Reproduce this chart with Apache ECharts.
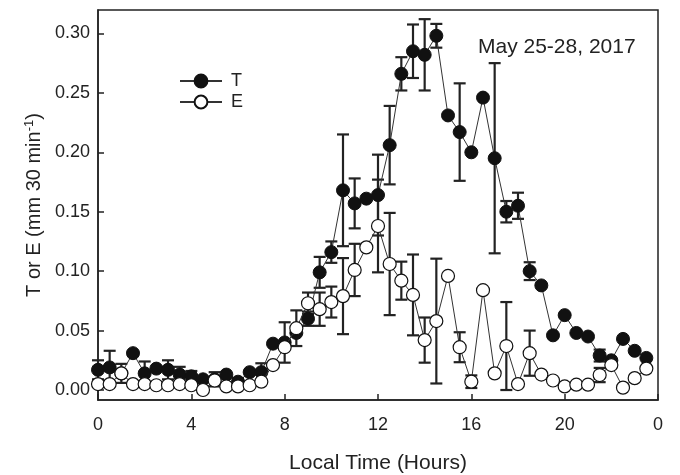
<!DOCTYPE html>
<html>
<head>
<meta charset="utf-8">
<title>T and E, May 25-28, 2017</title>
<script src="https://cdn.jsdelivr.net/npm/echarts@6/dist/echarts.min.js"></script>
<style>
  html, body { margin: 0; padding: 0; background: #fff; }
  #chart { width: 680px; height: 475px; }
</style>
</head>
<body>
<div id="chart"></div>
<script>
// Half-hourly local time (hours)
const times = [];
for (let i = 0; i < 48; i++) times.push(i * 0.5);

// Transpiration (T), mm per 30 min
const tValues = [
  0.017, 0.019, 0.014, 0.031, 0.014, 0.018, 0.017, 0.013,
  0.0115, 0.009, 0.009, 0.013, 0.007, 0.015, 0.015, 0.039,
  0.040, 0.048, 0.060, 0.099, 0.116, 0.168, 0.157, 0.161,
  0.164, 0.206, 0.266, 0.285, 0.282, 0.298, 0.231, 0.217,
  0.200, 0.246, 0.195, 0.150, 0.155, 0.100, 0.088, 0.046,
  0.063, 0.048, 0.045, 0.029, 0.025, 0.043, 0.033, 0.027
];
// Error bar half-widths for T (0 = no bar)
const tErrors = [
  0.008, 0.014, 0.008, 0, 0.010, 0, 0.008, 0.0065,
  0.0045, 0, 0.006, 0, 0.003, 0, 0.0075, 0,
  0.017, 0, 0.006, 0.013, 0.009, 0.047, 0.021, 0,
  0.034, 0.033, 0.014, 0.0225, 0.030, 0.010, 0, 0.041,
  0, 0, 0.080, 0.009, 0.011, 0.0075, 0, 0,
  0, 0, 0, 0.005, 0, 0, 0, 0
];

// Evaporation (E), mm per 30 min
const eValues = [
  0.005, 0.005, 0.014, 0.005, 0.005, 0.004, 0.004, 0.005,
  0.004, 0.000, 0.008, 0.003, 0.003, 0.004, 0.007, 0.021,
  0.036, 0.052, 0.073, 0.068, 0.074, 0.079, 0.101, 0.120,
  0.138, 0.106, 0.092, 0.080, 0.042, 0.058, 0.096, 0.036,
  0.007, 0.084, 0.014, 0.037, 0.005, 0.031, 0.013, 0.008,
  0.003, 0.0045, 0.0045, 0.0126, 0.021, 0.002, 0.010, 0.018
];
// Error bar half-widths for E (0 = no bar)
const eErrors = [
  0, 0, 0, 0, 0, 0, 0, 0,
  0, 0, 0, 0, 0, 0, 0, 0,
  0, 0.015, 0.009, 0.014, 0.013, 0.032, 0.022, 0,
  0.039, 0.043, 0.016, 0.034, 0.019, 0.0525, 0, 0.0126,
  0.0053, 0, 0, 0.037, 0, 0.019, 0, 0,
  0, 0, 0, 0.006, 0, 0, 0, 0
];

// Axis tick labels
const yTicks = [0, 0.05, 0.10, 0.15, 0.20, 0.25, 0.30];
const xTicks = [0, 4, 8, 12, 16, 20, 24];
const xTickLabels = ['0', '4', '8', '12', '16', '20', '0'];

const INK = '#222';
const FONT = 'Liberation Sans, Arial, sans-serif';

function pairs(vals) {
  return times.map((t, i) => [t, vals[i]]);
}

function errorData(vals, errs) {
  const out = [];
  times.forEach((t, i) => {
    if (errs[i] > 0) out.push([t, vals[i] - errs[i], vals[i] + errs[i]]);
  });
  return out;
}

function renderErrorBar(params, api) {
  const x = api.value(0);
  const lo = api.coord([x, api.value(1)]);
  const hi = api.coord([x, api.value(2)]);
  const half = 6;
  const style = { stroke: INK, lineWidth: 2.2 };
  return {
    type: 'group',
    children: [
      { type: 'line', shape: { x1: lo[0], y1: lo[1], x2: hi[0], y2: hi[1] }, style },
      { type: 'line', shape: { x1: lo[0] - half, y1: lo[1], x2: lo[0] + half, y2: lo[1] }, style },
      { type: 'line', shape: { x1: hi[0] - half, y1: hi[1], x2: hi[0] + half, y2: hi[1] }, style }
    ]
  };
}

const chart = echarts.init(document.getElementById('chart'), null, { renderer: 'canvas' });

chart.setOption({
  animation: false,
  backgroundColor: '#fff',
  textStyle: { fontFamily: FONT },
  grid: {
    left: 98, right: 22, top: 10, bottom: 75,
    outerBoundsMode: 'none',
    show: true, borderColor: INK, borderWidth: 1.5, backgroundColor: 'transparent'
  },
  legend: {
    orient: 'vertical',
    left: 179, top: 72, padding: 0,
    itemWidth: 42, itemHeight: 16, itemGap: 3,
    textStyle: { fontSize: 18, lineHeight: 16, color: INK, fontFamily: FONT, padding: [0, 0, 0, 4] },
    data: ['T', 'E']
  },
  xAxis: {
    type: 'value',
    min: 0, max: 24, interval: 4,
    name: 'Local Time (Hours)',
    nameLocation: 'middle',
    nameGap: 53,
    nameTextStyle: { fontSize: 21, color: INK, fontFamily: FONT },
    axisLine: { onZero: false, lineStyle: { color: INK, width: 1.5 } },
    axisTick: { inside: true, length: 6, lineStyle: { color: INK, width: 1.5 } },
    axisLabel: {
      fontSize: 18, color: INK, margin: 16, fontFamily: FONT,
      formatter: v => xTickLabels[xTicks.indexOf(v)] ?? ''
    },
    splitLine: { show: false }
  },
  yAxis: {
    type: 'value',
    min: -0.0084, max: 0.3197,
    name: 'T or E (mm 30 min{sup|-1})',
    nameLocation: 'middle',
    nameGap: 50,
    nameRotate: 90,
    nameTextStyle: {
      fontSize: 20, color: INK, fontFamily: FONT,
      rich: { sup: { fontSize: 13, verticalAlign: 'top', color: INK, fontFamily: FONT, padding: [0, 0, 9, 0] } }
    },
    axisLine: { show: true, onZero: false, lineStyle: { color: INK, width: 1.5 } },
    axisTick: { show: true, inside: true, length: 6, customValues: yTicks, lineStyle: { color: INK, width: 1.5 } },
    axisLabel: {
      fontSize: 18, color: INK, margin: 8, fontFamily: FONT,
      customValues: yTicks,
      formatter: v => v.toFixed(2)
    },
    splitLine: { show: false }
  },
  graphic: [{
    type: 'text',
    left: 478, top: 37,
    style: { text: 'May 25-28, 2017', fontSize: 21, fill: INK, fontFamily: FONT }
  }],
  series: [
    {
      name: 'T-err', type: 'custom', renderItem: renderErrorBar,
      encode: { x: 0, y: [1, 2] }, data: errorData(tValues, tErrors), z: 1, silent: true
    },
    {
      name: 'E-err', type: 'custom', renderItem: renderErrorBar,
      encode: { x: 0, y: [1, 2] }, data: errorData(eValues, eErrors), z: 1, silent: true
    },
    {
      name: 'T', type: 'line', data: pairs(tValues), z: 3,
      symbol: 'circle', symbolSize: 13, showAllSymbol: true,
      lineStyle: { color: '#333', width: 1 },
      itemStyle: { color: '#111', borderColor: '#111', borderWidth: 1 }
    },
    {
      name: 'E', type: 'line', data: pairs(eValues), z: 4,
      symbol: 'circle', symbolSize: 13, showAllSymbol: true,
      lineStyle: { color: '#333', width: 1 },
      itemStyle: { color: '#fff', borderColor: '#111', borderWidth: 1.2 }
    }
  ]
});
</script>
</body>
</html>
